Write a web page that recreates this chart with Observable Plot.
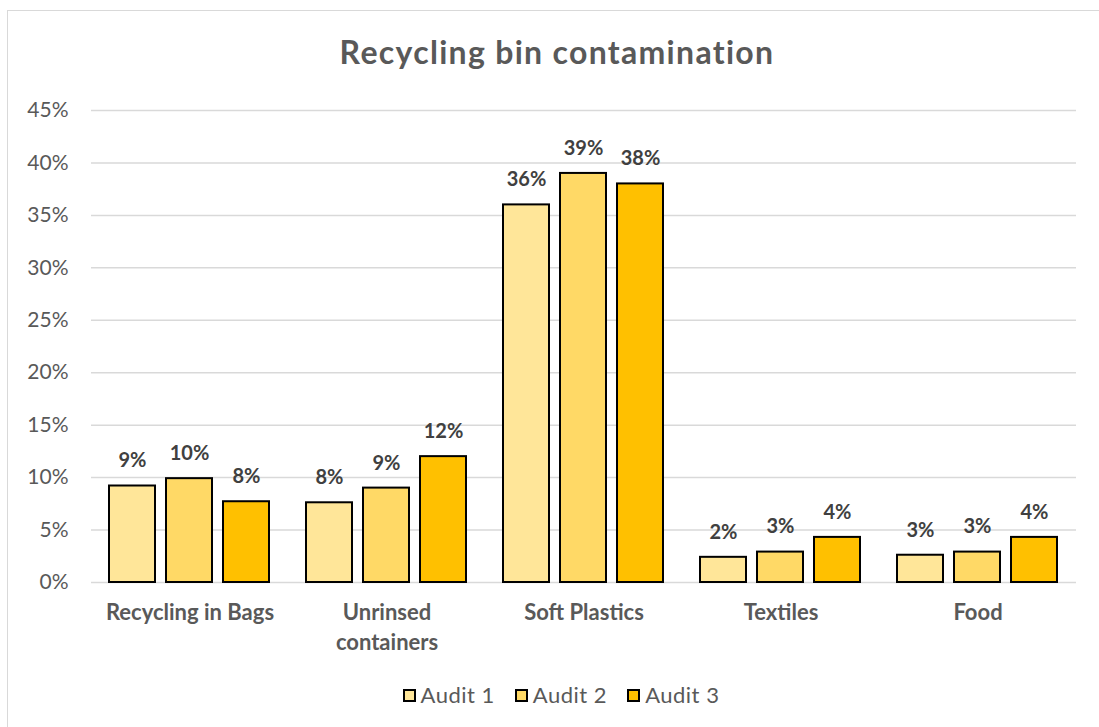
<!DOCTYPE html>
<html>
<head>
<meta charset="utf-8">
<script src="https://cdn.jsdelivr.net/npm/d3@7"></script>
<script src="https://cdn.jsdelivr.net/npm/@observablehq/plot@0.6"></script>
<style>
  html, body { margin: 0; padding: 0; background: #fff; overflow: hidden; }
  body { width: 1099px; height: 727px; position: relative; font-family: Lato, "Noto Sans", sans-serif; }
  #frame {
    position: absolute; left: 7px; top: 10px; width: 1110px; height: 760px;
    border: 1.5px solid #d9d9d9; box-sizing: border-box;
  }
  #title {
    position: absolute; left: 0; top: 34px; width: 1114px; text-align: center;
    font-size: 32px; line-height: 36px; font-weight: bold; color: #595959; letter-spacing: 1.3px;
  }
  #chart { position: absolute; left: 0; top: 90px; }
  #legend {
    position: absolute; left: 0; top: 681px; width: 1122px;
    display: flex; justify-content: center; align-items: center; gap: 20px;
    font-size: 22px; line-height: 28px; color: #595959; letter-spacing: 0.5px;
  }
  .item { display: flex; align-items: center; gap: 5px; }
  .swatch { width: 13px; height: 13px; border: 2px solid #000; box-sizing: border-box; }
</style>
</head>
<body>
<div id="frame"></div>
<div id="title">Recycling bin contamination</div>
<div id="chart"></div>
<div id="legend"></div>
<script>
// Contamination share by category for each audit
const categories = ["Recycling in Bags", "Unrinsed containers", "Soft Plastics", "Textiles", "Food"];
const audits = ["Audit 1", "Audit 2", "Audit 3"];
const audit1 = [0.092, 0.076, 0.360, 0.024, 0.026];
const audit2 = [0.099, 0.090, 0.390, 0.029, 0.029];
const audit3 = [0.077, 0.120, 0.380, 0.043, 0.043];
const yTicks = [0, 0.05, 0.10, 0.15, 0.20, 0.25, 0.30, 0.35, 0.40, 0.45];
const colors = ["#FFE699", "#FFD966", "#FFC000"];

const series = [audit1, audit2, audit3];
const rows = [];
categories.forEach((c, i) => {
  audits.forEach((a, j) => rows.push({category: c, audit: a, value: series[j][i]}));
});

const pct = d3.format(".0%");
const wrapLabel = d => d === "Unrinsed containers" ? "Unrinsed\ncontainers" : d;

// Facets fill the full width so the gridlines join up; the gap between
// groups comes from the outer padding of the inner band scale.
const chart = Plot.plot({
  width: 1099,
  height: 580,
  marginLeft: 89,
  marginRight: 22,
  marginTop: 20,
  marginBottom: 88,
  style: {fontFamily: "Lato, 'Noto Sans', sans-serif", fontSize: "20px", color: "#595959", background: "transparent", overflow: "visible"},
  fx: {domain: categories, padding: 0, label: null, axis: null},
  x: {domain: audits, paddingInner: 0.19, paddingOuter: 0.2985, axis: null},
  y: {domain: [0, 0.45], axis: null},
  color: {domain: audits, range: colors},
  marks: [
    Plot.gridY(yTicks, {stroke: "#d9d9d9", strokeOpacity: 1, strokeWidth: 1.5}),
    Plot.axisY(yTicks, {tickSize: 0, tickPadding: 23, tickFormat: pct, fill: "#595959", fontSize: 21, label: null}),
    Plot.barY(rows, {fx: "category", x: "audit", y: "value", fill: "audit", stroke: "#000", strokeWidth: 2}),
    Plot.text(rows, {fx: "category", x: "audit", y: "value", text: d => pct(d.value), dy: -25,
      fontWeight: "bold", fontSize: 20, fill: "#404040"}),
    Plot.axisFx({anchor: "bottom", tickSize: 0, tickPadding: 16, tickFormat: wrapLabel, fontWeight: "bold",
      fontSize: 22, fill: "#595959", lineHeight: 1.36, label: null})
  ]
});
document.getElementById("chart").appendChild(chart);

// Legend swatches
const legend = document.getElementById("legend");
audits.forEach((a, j) => {
  const item = document.createElement("div");
  item.className = "item";
  const sw = document.createElement("div");
  sw.className = "swatch";
  sw.style.background = colors[j];
  const lab = document.createElement("span");
  lab.textContent = a;
  item.appendChild(sw);
  item.appendChild(lab);
  legend.appendChild(item);
});
</script>
</body>
</html>
